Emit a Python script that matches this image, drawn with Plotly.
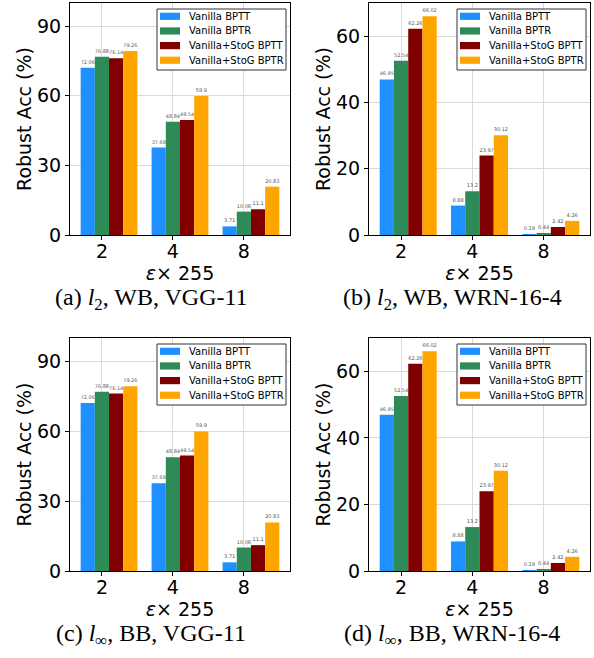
import plotly.graph_objects as go

categories = ["2", "4", "8"]
series_names = ["Vanilla BPTT", "Vanilla BPTR", "Vanilla+StoG BPTT", "Vanilla+StoG BPTR"]
colors = ["#1E90FF", "#2E8B57", "#800000", "#FFA500"]

# panel values: each list is per series, across categories
vgg_wb = [[72.06, 37.69, 3.71], [76.88, 48.84, 10.08], [76.14, 49.54, 11.1], [79.26, 59.9, 20.83]]
wrn_wb = [[46.95, 8.88, 0.19], [52.54, 13.2, 0.44], [62.26, 23.97, 2.42], [66.02, 30.12, 4.26]]
vgg_bb = [[72.06, 37.69, 3.71], [76.88, 48.84, 10.08], [76.14, 49.54, 11.1], [79.26, 59.9, 20.83]]
wrn_bb = [[46.95, 8.88, 0.19], [52.54, 13.2, 0.44], [62.26, 23.97, 2.42], [66.02, 30.12, 4.26]]

captions = ["(a) <i>l</i><sub>2</sub>, WB, VGG-11", "(b) <i>l</i><sub>2</sub>, WB, WRN-16-4",
            "(c) <i>l</i><sub>∞</sub>, BB, VGG-11", "(d) <i>l</i><sub>∞</sub>, BB, WRN-16-4"]
y_ticks_vgg = [0, 30, 60, 90]
y_ticks_wrn = [0, 20, 40, 60]

W, H = 594, 658
panels = [
    dict(data=vgg_wb, x0=70, x1=290, top=3, bot=235, yr=[0, 100], yt=y_ticks_vgg, cap_x=151),
    dict(data=wrn_wb, x0=369, x1=590, top=3, bot=235, yr=[0, 70], yt=y_ticks_wrn, cap_x=452),
    dict(data=vgg_bb, x0=70, x1=290, top=338, bot=571, yr=[0, 100], yt=y_ticks_vgg, cap_x=151),
    dict(data=wrn_bb, x0=369, x1=590, top=338, bot=571, yr=[0, 70], yt=y_ticks_wrn, cap_x=452),
]

FONT = "DejaVu Sans"
fig = go.Figure()
bar_w = 0.2
layout = {}
annotations = []
shapes = []


def px(xp):
    return xp / W


def py(yp):
    return 1 - yp / H


for p_i, p in enumerate(panels):
    sfx = "" if p_i == 0 else str(p_i + 1)
    xa, ya = "x" + sfx, "y" + sfx
    for s_i, name in enumerate(series_names):
        vals = p["data"][s_i]
        xs = [c_i + (s_i - 1) * bar_w for c_i in range(len(categories))]
        fig.add_trace(go.Bar(
            x=xs, y=vals, width=bar_w, name=name, showlegend=False,
            marker=dict(color=colors[s_i], line=dict(width=0)),
            text=[str(v) for v in vals], textposition="outside",
            textfont=dict(size=5, color="#555555", family=FONT),
            cliponaxis=False, xaxis=xa, yaxis=ya,
        ))
    layout["xaxis" + sfx] = dict(
        domain=[px(p["x0"]), px(p["x1"])], anchor=ya, range=[-0.45, 2.65],
        tickvals=[0, 1, 2], ticktext=categories, showgrid=True, gridcolor="#dadada",
        showline=True, linecolor="black", linewidth=1, mirror=True,
        ticks="outside", ticklen=4, tickcolor="black", zeroline=False, automargin=False,
        ticklabelstandoff=-5,
        tickfont=dict(size=19, family=FONT, color="black"),
        title=dict(text="<i>ε</i>× 255", font=dict(size=19, family=FONT, color="black"), standoff=0),
    )
    layout["yaxis" + sfx] = dict(
        domain=[py(p["bot"]), py(p["top"])], anchor=xa, range=p["yr"],
        tickvals=p["yt"], showgrid=True, gridcolor="#dadada",
        showline=True, linecolor="black", linewidth=1, mirror=True,
        ticks="outside", ticklen=4, tickcolor="black", zeroline=False, automargin=False,
        tickfont=dict(size=19, family=FONT, color="black"),
        title=dict(text="Robust Acc (%)", font=dict(size=19, family=FONT, color="black"), standoff=0),
    )
    # legend box drawn inside the axes (upper right)
    lx0, lx1 = p["x1"] - 133, p["x1"] - 4
    ly0, ly1 = p["top"] + 6, p["top"] + 67
    shapes.append(dict(type="rect", xref="paper", yref="paper",
                       x0=px(lx0), x1=px(lx1), y0=py(ly1), y1=py(ly0),
                       fillcolor="white", line=dict(color="#333333", width=1), layer="above"))
    for s_i, name in enumerate(series_names):
        cy = p["top"] + 13.3 + s_i * 14.65
        shapes.append(dict(type="rect", xref="paper", yref="paper",
                           x0=px(p["x1"] - 130), x1=px(p["x1"] - 110),
                           y0=py(cy + 3.6), y1=py(cy - 3.6),
                           fillcolor=colors[s_i], line=dict(width=0), layer="above"))
        annotations.append(dict(text=name, xref="paper", yref="paper",
                                x=px(p["x1"] - 103), y=py(cy), xanchor="left", yanchor="middle",
                                showarrow=False, font=dict(size=10, family=FONT, color="black")))
    annotations.append(dict(
        text=captions[p_i], xref="paper", yref="paper",
        x=px(p["cap_x"]), y=py(p["bot"] + 64),
        xanchor="center", yanchor="middle", showarrow=False,
        font=dict(size=24, family="Liberation Serif", color="black"),
    ))

fig.update_layout(
    width=W, height=H, margin=dict(l=0, r=0, t=0, b=0),
    paper_bgcolor="white", plot_bgcolor="white", showlegend=False,
    barmode="overlay", annotations=annotations, shapes=shapes, **layout,
)
fig.write_html("out.html", config={"displayModeBar": False},
               post_script="document.body.style.margin='0';document.body.style.overflow='hidden';")
